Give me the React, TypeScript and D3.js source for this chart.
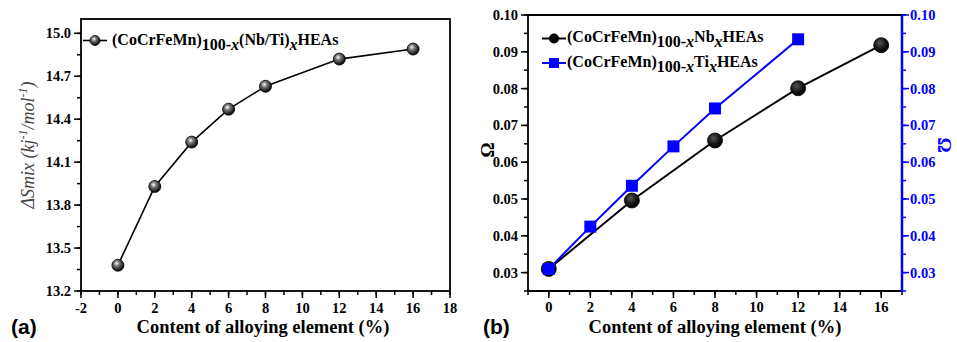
import React from "react";
import * as d3 from "d3";

const contentA = [0, 2, 4, 6, 8, 12, 16];
const entropyA = [13.38, 13.93, 14.24, 14.47, 14.63, 14.82, 14.89];

const contentNb = [0, 4, 8, 12, 16];
const omegaNb = [0.031, 0.0496, 0.0659, 0.0801, 0.0918];
const contentTi = [0, 2, 4, 6, 8, 12];
const omegaTi = [0.031, 0.0425, 0.0536, 0.0643, 0.0746, 0.0934];

const xTicksA = [-2, 0, 2, 4, 6, 8, 10, 12, 14, 16, 18];
const yTicksA = [13.2, 13.5, 13.8, 14.1, 14.4, 14.7, 15.0];
const xTicksB = [0, 2, 4, 6, 8, 10, 12, 14, 16];
const yTicksB = [0.03, 0.04, 0.05, 0.06, 0.07, 0.08, 0.09, 0.1];

const SERIF = "Liberation Serif, DejaVu Serif, serif";
const SANS = "Liberation Sans, DejaVu Sans, sans-serif";

export default function App() {
  const xa = d3.scaleLinear().domain([-2, 18]).range([81, 450]);
  const ya = d3.scaleLinear().domain([13.2, 15.1]).range([291, 19]);
  const xb = d3.scaleLinear().domain([-1, 17]).range([528, 902]);
  const yb = d3.scaleLinear().domain([0.025, 0.1]).range([291, 15]);

  const lineA = d3.line<number>().x((_, i) => xa(contentA[i])).y((d) => ya(d));
  const lineNb = d3.line<number>().x((_, i) => xb(contentNb[i])).y((d) => yb(d));
  const lineTi = d3.line<number>().x((_, i) => xb(contentTi[i])).y((d) => yb(d));

  const minorXA = d3.range(-2, 18.01, 1);
  const minorYA = d3.range(13.2, 15.11, 0.15);
  const minorXB = d3.range(-1, 17.01, 1);
  const minorYB = d3.range(0.025, 0.1001, 0.005);

  const blue = "#0000ff";
  const tickProps = { fontFamily: SERIF, fontWeight: 700, fontSize: 14.5 };

  return (
    <svg
      width={957}
      height={342}
      style={{ position: "absolute", left: 0, top: 0, background: "#fff" }}
    >
      <defs>
        <radialGradient id="ball" cx="40%" cy="35%" r="65%">
          <stop offset="0%" stopColor="#ffffff" />
          <stop offset="35%" stopColor="#777" />
          <stop offset="100%" stopColor="#000" />
        </radialGradient>
        <radialGradient id="ballB" cx="40%" cy="35%" r="70%">
          <stop offset="0%" stopColor="#555" />
          <stop offset="60%" stopColor="#111" />
          <stop offset="100%" stopColor="#000" />
        </radialGradient>
      </defs>
      <rect width={957} height={342} fill="#fff" />

      {/* ================= Panel A ================= */}
      <g>
        {minorXA.map((v, i) => (
          <line key={"mxa" + i} x1={xa(v)} x2={xa(v)} y1={291} y2={295} stroke="#000" strokeWidth={1.5} />
        ))}
        {xTicksA.map((v) => (
          <g key={"xa" + v}>
            <line x1={xa(v)} x2={xa(v)} y1={291} y2={298} stroke="#000" strokeWidth={1.5} />
            <text x={xa(v)} y={313} textAnchor="middle" {...tickProps}>
              {v}
            </text>
          </g>
        ))}
        {minorYA.map((v, i) => (
          <line key={"mya" + i} x1={77} x2={81} y1={ya(v)} y2={ya(v)} stroke="#000" strokeWidth={1.5} />
        ))}
        {yTicksA.map((v) => (
          <g key={"ya" + v}>
            <line x1={74} x2={81} y1={ya(v)} y2={ya(v)} stroke="#000" strokeWidth={1.5} />
            <text x={71} y={ya(v) + 5} textAnchor="end" {...tickProps}>
              {v.toFixed(1)}
            </text>
          </g>
        ))}
        <rect x={81} y={19} width={369} height={272} fill="none" stroke="#000" strokeWidth={1.8} />

        <path d={lineA(entropyA) || ""} fill="none" stroke="#000" strokeWidth={1.6} />
        {entropyA.map((v, i) => (
          <circle key={"pa" + i} cx={xa(contentA[i])} cy={ya(v)} r={6} fill="url(#ball)" stroke="#000" strokeWidth={0.8} />
        ))}

        {/* legend */}
        <line x1={83} x2={107} y1={40.5} y2={40.5} stroke="#000" strokeWidth={1.6} />
        <circle cx={95} cy={40.5} r={5} fill="url(#ball)" stroke="#000" strokeWidth={0.8} />
        <text x={112} y={45} fontFamily={SERIF} fontWeight={700} fontSize={16}>
          <tspan>(CoCrFeMn)</tspan>
          <tspan dy={5}>100-</tspan>
          <tspan fontStyle="italic">x</tspan>
          <tspan dy={-5}>(Nb/Ti)</tspan>
          <tspan dy={5} fontStyle="italic">x</tspan>
          <tspan dy={-5}>HEAs</tspan>
        </text>

        {/* axis titles */}
        <text x={263} y={333} textAnchor="middle" fontFamily={SERIF} fontWeight={700} fontSize={18.5}>
          Content of alloying element (%)
        </text>
        <text
          transform="translate(34,145) rotate(-90)"
          textAnchor="middle"
          fill="#444"
          fontFamily={SERIF}
          fontStyle="italic"
          fontSize={18}
        >
          <tspan>ΔSmix (kj</tspan>
          <tspan dy={-7} fontSize={12}>-1</tspan>
          <tspan dy={7}>/mol</tspan>
          <tspan dy={-7} fontSize={12}>-1</tspan>
          <tspan dy={7}>)</tspan>
        </text>
        <text x={11} y={334} fontFamily={SANS} fontWeight={700} fontSize={21}>
          (a)
        </text>
      </g>

      {/* ================= Panel B ================= */}
      <g>
        {minorXB.map((v, i) => (
          <line key={"mxb" + i} x1={xb(v)} x2={xb(v)} y1={291} y2={295} stroke="#000" strokeWidth={1.5} />
        ))}
        {xTicksB.map((v) => (
          <g key={"xb" + v}>
            <line x1={xb(v)} x2={xb(v)} y1={291} y2={298} stroke="#000" strokeWidth={1.5} />
            <text x={xb(v)} y={312} textAnchor="middle" {...tickProps}>
              {v}
            </text>
          </g>
        ))}
        {minorYB.map((v, i) => (
          <line key={"myb" + i} x1={524} x2={528} y1={yb(v)} y2={yb(v)} stroke="#000" strokeWidth={1.5} />
        ))}
        {yTicksB.map((v) => (
          <g key={"yb" + v}>
            <line x1={521} x2={528} y1={yb(v)} y2={yb(v)} stroke="#000" strokeWidth={1.5} />
            <text x={518} y={yb(v) + 5} textAnchor="end" {...tickProps}>
              {v.toFixed(2)}
            </text>
          </g>
        ))}
        {minorYB.map((v, i) => (
          <line key={"myr" + i} x1={902} x2={906} y1={yb(v)} y2={yb(v)} stroke={blue} strokeWidth={1.5} />
        ))}
        {yTicksB.map((v) => (
          <g key={"yr" + v}>
            <line x1={902} x2={909} y1={yb(v)} y2={yb(v)} stroke={blue} strokeWidth={1.5} />
            <text x={910} y={yb(v) + 5} textAnchor="start" fill={blue} {...tickProps}>
              {v.toFixed(2)}
            </text>
          </g>
        ))}
        <line x1={528} x2={528} y1={15} y2={291} stroke="#000" strokeWidth={1.8} />
        <line x1={528} x2={902} y1={291} y2={291} stroke="#000" strokeWidth={1.8} />
        <line x1={528} x2={902} y1={15} y2={15} stroke="#000" strokeWidth={1.8} />
        <line x1={902} x2={902} y1={15} y2={292} stroke={blue} strokeWidth={2.5} />

        <path d={lineNb(omegaNb) || ""} fill="none" stroke="#000" strokeWidth={2} />
        <path d={lineTi(omegaTi) || ""} fill="none" stroke={blue} strokeWidth={2} />
        {omegaNb.map((v, i) => (
          <circle key={"pn" + i} cx={xb(contentNb[i])} cy={yb(v)} r={7.5} fill="url(#ballB)" stroke="#000" strokeWidth={0.8} />
        ))}
        {omegaTi.map((v, i) => (
          <rect key={"pt" + i} x={xb(contentTi[i]) - 6} y={yb(v) - 6} width={12} height={12} fill={blue} />
        ))}

        {/* legend */}
        <line x1={542} x2={566} y1={38.5} y2={38.5} stroke="#000" strokeWidth={2} />
        <circle cx={554} cy={38.5} r={5} fill="#000" />
        <text x={567} y={42} fontFamily={SERIF} fontWeight={700} fontSize={16}>
          <tspan>(CoCrFeMn)</tspan>
          <tspan dy={5}>100-</tspan>
          <tspan fontStyle="italic">x</tspan>
          <tspan dy={-5}>Nb</tspan>
          <tspan dy={5} fontStyle="italic">x</tspan>
          <tspan dy={-5}>HEAs</tspan>
        </text>
        <line x1={542} x2={566} y1={63} y2={63} stroke={blue} strokeWidth={2} />
        <rect x={549} y={58} width={10} height={10} fill={blue} />
        <text x={567} y={66.5} fontFamily={SERIF} fontWeight={700} fontSize={16}>
          <tspan>(CoCrFeMn)</tspan>
          <tspan dy={5}>100-</tspan>
          <tspan fontStyle="italic">x</tspan>
          <tspan dy={-5}>Ti</tspan>
          <tspan dy={5} fontStyle="italic">x</tspan>
          <tspan dy={-5}>HEAs</tspan>
        </text>

        <text x={715} y={333} textAnchor="middle" fontFamily={SERIF} fontWeight={700} fontSize={18.5}>
          Content of alloying element (%)
        </text>
        <text transform="translate(494,150) rotate(-90)" textAnchor="middle" fontFamily={SERIF} fontWeight={700} fontSize={19}>
          Ω
        </text>
        <text transform="translate(938,145) rotate(90)" textAnchor="middle" fill={blue} fontFamily={SERIF} fontWeight={700} fontSize={19}>
          Ω
        </text>
        <text x={483} y={334} fontFamily={SANS} fontWeight={700} fontSize={21}>
          (b)
        </text>
      </g>
    </svg>
  );
}
